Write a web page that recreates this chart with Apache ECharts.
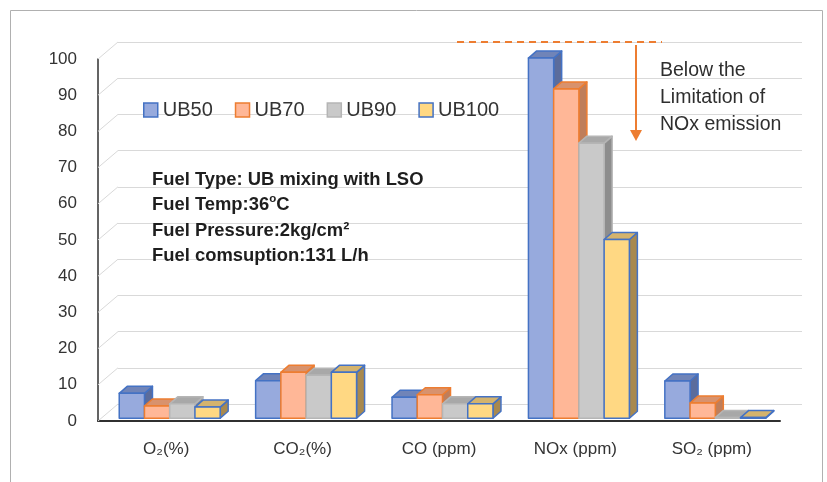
<!DOCTYPE html>
<html>
<head>
<meta charset="utf-8">
<script src="https://cdn.jsdelivr.net/npm/echarts@6/dist/echarts.min.js"></script>
<style>
  html, body { margin: 0; padding: 0; background: #ffffff; }
  #chart { width: 827px; height: 482px; }
</style>
</head>
<body>
<div id="chart"></div>
<script>
// Emission categories and measured values for each UB blend
const categories = ['O₂(%)', 'CO₂(%)', 'CO (ppm)', 'NOx (ppm)', 'SO₂ (ppm)'];
const seriesNames = ['UB50', 'UB70', 'UB90', 'UB100'];
const ub50  = [6.9, 10.4, 5.8, 99.5, 10.3];
const ub70  = [3.4, 12.7, 6.5, 91.0, 4.2];
const ub90  = [4.0, 11.9, 4.0, 76.0, 0.2];
const ub100 = [3.1, 12.7, 4.0, 49.4, 0.2];
const yTicks = [0, 10, 20, 30, 40, 50, 60, 70, 80, 90, 100];

const FONT = '"Liberation Sans", "Noto Sans", "DejaVu Sans", sans-serif';

// Face colours of the pseudo-3D columns
const palettes = [
  { front: '#97AADD', top: '#7084B8', side: '#5B6C9C', border: '#4472C4' },
  { front: '#FFB797', top: '#D8926D', side: '#BF7E5B', border: '#ED7D31' },
  { front: '#C9C9C9', top: '#A8A8A8', side: '#8D8D8D', border: '#B5B5B5' },
  { front: '#FFD883', top: '#D4B36D', side: '#A8894F', border: '#4472C4' }
];
const seriesValues = [ub50, ub70, ub90, ub100];

// Projection of the chart depth
const WALL_DX = 20, WALL_DY = 17;     // back wall offset
const BAR_SHIFT_X = 3.5, BAR_SHIFT_Y = -2.7; // columns sit slightly behind the front plane
const BAR_DX = 8, BAR_DY = 7;         // column depth
const BAR_FRAC = 0.185;               // column width as fraction of category band

function columnRenderer(idx, pal) {
  return function (params, api) {
    const cat = api.value(0);
    const val = api.value(1);
    const top = api.coord([cat, val]);
    const base = api.coord([cat, 0]);
    const band = api.size([1, 0])[0];
    const bw = band * BAR_FRAC;
    const x0 = top[0] - 2 * bw + idx * bw + BAR_SHIFT_X;
    const x1 = x0 + bw;
    const yT = top[1] + BAR_SHIFT_Y;
    const yB = base[1] + BAR_SHIFT_Y;
    const st = (fill) => ({ fill: fill, stroke: pal.border, lineWidth: 1.5, lineJoin: 'round' });
    return {
      type: 'group',
      children: [
        { type: 'polygon', shape: { points: [[x1, yB], [x1 + BAR_DX, yB - BAR_DY], [x1 + BAR_DX, yT - BAR_DY], [x1, yT]] }, style: st(pal.side) },
        { type: 'polygon', shape: { points: [[x0, yT], [x0 + BAR_DX, yT - BAR_DY], [x1 + BAR_DX, yT - BAR_DY], [x1, yT]] }, style: st(pal.top) },
        { type: 'rect', shape: { x: x0, y: yT, width: bw, height: yB - yT }, style: st(pal.front) }
      ]
    };
  };
}

// Diagonal side-wall lines joining the front axis to the back wall
function wallRenderer(params, api) {
  const y = api.coord([0, api.value(1)])[1];
  const x = params.coordSys.x;
  return {
    type: 'line',
    shape: { x1: x, y1: y, x2: x + WALL_DX, y2: y - WALL_DY },
    style: { stroke: '#D9D9D9', lineWidth: 1 }
  };
}

const columnSeries = seriesNames.map((name, i) => ({
  name: name,
  type: 'custom',
  xAxisIndex: 0,
  yAxisIndex: 0,
  renderItem: columnRenderer(i, palettes[i]),
  itemStyle: { color: palettes[i].front, borderColor: palettes[i].border },
  data: seriesValues[i].map((v, c) => [c, v]),
  z: 3 + i
}));

const chart = echarts.init(document.getElementById('chart'), null, { renderer: 'canvas' });

chart.setOption({
  animation: false,
  backgroundColor: '#ffffff',
  textStyle: { fontFamily: FONT },
  grid: [
    { left: 98, right: 47, top: 59, bottom: 61 },
    { left: 98 + WALL_DX, right: 47 - WALL_DX - 2, top: 59 - WALL_DY, bottom: 61 + WALL_DY }
  ],
  xAxis: [
    {
      type: 'category', gridIndex: 0, data: categories,
      axisLine: { show: true, lineStyle: { color: '#303030', width: 2 } },
      axisTick: { show: false },
      axisLabel: { color: '#333333', fontSize: 17, fontFamily: FONT, margin: 20 }
    },
    { type: 'value', gridIndex: 1, min: 0, max: 1, show: false }
  ],
  yAxis: [
    {
      type: 'value', gridIndex: 0, min: 0, max: 100, interval: 10,
      axisLine: { show: true, lineStyle: { color: '#303030', width: 1.5 } },
      axisTick: { show: false },
      splitLine: { show: false },
      axisLabel: { color: '#333333', fontSize: 17, fontFamily: FONT, margin: 21 }
    },
    {
      type: 'value', gridIndex: 1, min: 0, max: 100, interval: 10,
      axisLine: { show: false }, axisTick: { show: false }, axisLabel: { show: false },
      splitLine: { show: true, lineStyle: { color: '#D9D9D9', width: 1 } }
    }
  ],
  legend: {
    left: 143, top: 100, padding: 0,
    itemWidth: 14, itemHeight: 14, itemGap: 22,
    icon: 'rect',
    textStyle: { color: '#333333', fontSize: 20, fontFamily: FONT },
    data: seriesNames.map((n, i) => ({
      name: n,
      itemStyle: { color: palettes[i].front, borderColor: palettes[i].border, borderWidth: 1.5 }
    }))
  },
  series: [
    {
      name: 'wall',
      type: 'custom',
      xAxisIndex: 0, yAxisIndex: 0,
      renderItem: wallRenderer,
      data: yTicks.map(v => [0, v]),
      silent: true,
      z: 1
    }
  ].concat(columnSeries),
  graphic: [
    // outer frame
    { type: 'rect', shape: { x: 10.5, y: 10.5, width: 812, height: 490 }, style: { fill: null, stroke: '#B0B0B0', lineWidth: 1 }, z: 0 },
    // test conditions
    {
      type: 'text', left: 152, top: 167, z: 10,
      style: {
        text: 'Fuel Type: UB mixing with LSO\nFuel Temp:36{sup|o}C\nFuel Pressure:2kg/cm²\nFuel comsuption:131 L/h',
        font: 'bold 18.4px ' + FONT,
        fill: '#1e1e1e',
        lineHeight: 25.5,
        rich: {
          sup: { fontSize: 11.5, fontWeight: 'bold', fontFamily: FONT, fill: '#1e1e1e', verticalAlign: 'top', lineHeight: 25.5, padding: [0, 0, 10, 0] }
        }
      }
    },
    // NOx limitation marker
    { type: 'line', shape: { x1: 457, y1: 42, x2: 662, y2: 42 }, style: { stroke: '#ED7D31', lineWidth: 2, lineDash: [7, 5] }, z: 10 },
    { type: 'line', shape: { x1: 636, y1: 45, x2: 636, y2: 132 }, style: { stroke: '#ED7D31', lineWidth: 2 }, z: 10 },
    { type: 'polygon', shape: { points: [[630, 130], [642, 130], [636, 141]] }, style: { fill: '#ED7D31' }, z: 10 },
    {
      type: 'text', left: 660, top: 57, z: 10,
      style: {
        text: 'Below the\nLimitation of\nNOx emission',
        font: '19.5px ' + FONT,
        fill: '#2e2e2e',
        lineHeight: 27
      }
    }
  ]
});
</script>
</body>
</html>
